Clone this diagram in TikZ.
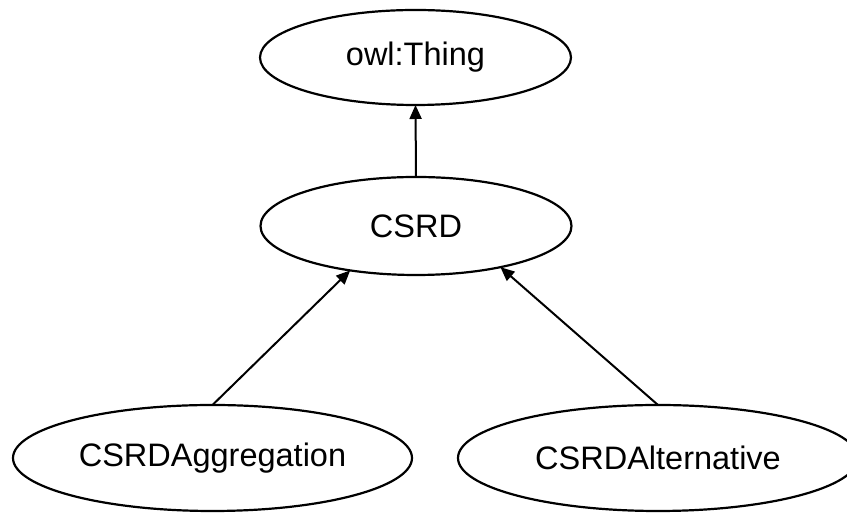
\documentclass[tikz,border=0pt]{standalone}
\usepackage{fontspec}
\setmainfont{Liberation Sans}
\usetikzlibrary{shapes.geometric,arrows.meta}
\begin{document}
\begin{tikzpicture}[x=1pt,y=1pt,
  cls/.style={draw=black, line width=2.2pt, ellipse, inner sep=0pt, outer sep=0pt,
    font=\fontsize{32.5}{32.5}\selectfont},
  isa/.style={draw=black, line width=2pt, -{Triangle[length=14pt,width=12pt]}}]
  \useasboundingbox (0,0) rectangle (847,513);
  \node[cls, minimum width=311, minimum height=95] (thing) at (415.5,455.5) {owl:Thing};
  \node[cls, minimum width=311, minimum height=98] (csrd) at (416,287) {CSRD};
  \node[cls, minimum width=399, minimum height=106] (agg) at (212.5,55) {CSRDAggregation};
  \node[cls, minimum width=400, minimum height=106] (alt) at (658,55) {CSRDAlternative};
  \draw[isa] (csrd.north) -- (thing.south);
  \draw[isa] (agg.north) -- (csrd.214);
  \draw[isa] (alt.north) -- (csrd.334);
\end{tikzpicture}
\end{document}
